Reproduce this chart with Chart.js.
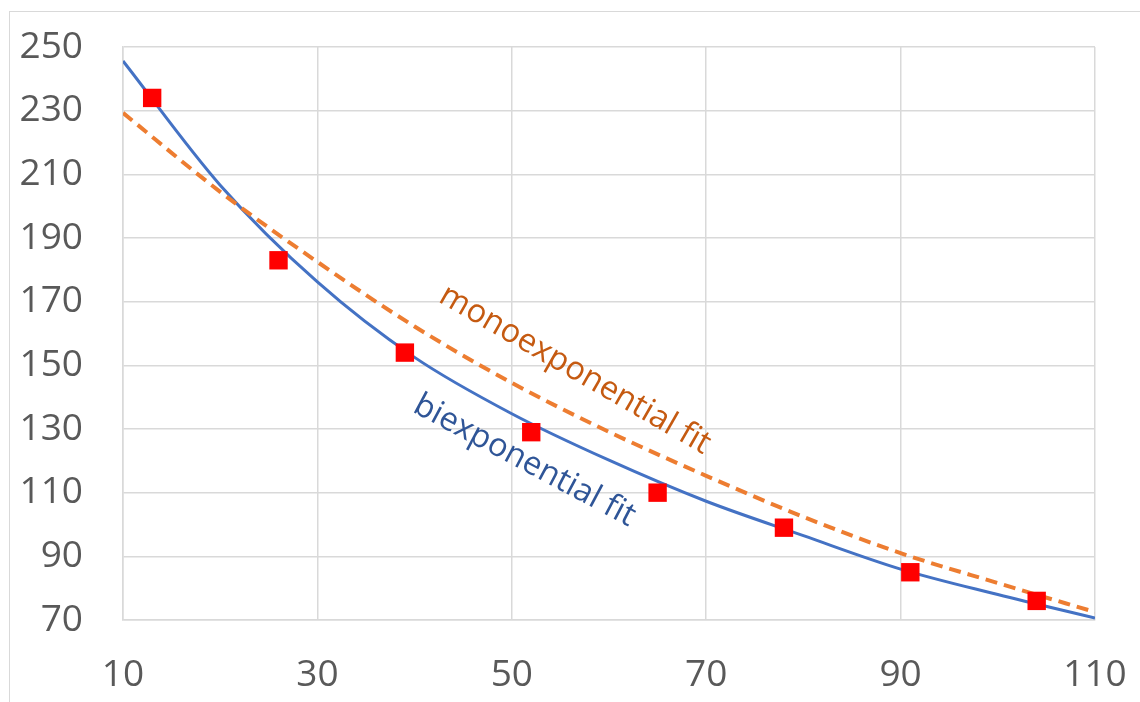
<!DOCTYPE html>
<html>
<head>
<meta charset="utf-8">
<script src="https://cdn.jsdelivr.net/npm/chart.js@4/dist/chart.umd.min.js"></script>
<style>
  html, body { margin: 0; padding: 0; background: #ffffff; overflow: hidden; }
  #wrap { position: relative; width: 1140px; height: 702px; }
  #frame { position: absolute; left: 9px; top: 11px; width: 1200px; height: 800px; border: 1.5px solid #D9D9D9; box-sizing: border-box; }
  canvas { position: absolute; left: 0; top: 0; }
</style>
</head>
<body>
<div id="wrap">
  <div id="frame"></div>
  <canvas id="c" width="1140" height="702"></canvas>
</div>
<script>
// Observed data (red squares)
const obsX = [13, 26, 39, 52, 65, 78, 91, 104];
const obsY = [234, 183, 154, 129, 110, 99, 85, 76];

// Fit curves
const fitX   = [10, 20, 30, 40, 50, 60, 70, 80, 90, 100, 110];
const biexpY = [245.6, 206.6, 176.2, 152.5, 134.8, 120.2, 107.3, 96.5, 86.0, 78.0, 70.6];
const monoY  = [229.3, 204.5, 182.5, 162.2, 144.5, 129.1, 115.3, 102.4, 91.0, 81.6, 72.5];

// Axis ticks
const xTicks = [10, 30, 50, 70, 90, 110];
const yTicks = [70, 90, 110, 130, 150, 170, 190, 210, 230, 250];

// Annotation labels
const monoLabel = "monoexponential fit";
const biexpLabel = "biexponential fit";

const FONT = "'Open Sans', 'Noto Sans', 'Liberation Sans', sans-serif";

const toPts = (xs, ys) => xs.map((x, i) => ({ x: x, y: ys[i] }));

const noPad = (s) => { s.paddingTop = 0; s.paddingBottom = 0; s.paddingLeft = 0; s.paddingRight = 0; };

const labelPlugin = {
  id: 'fitLabels',
  afterDatasetsDraw(chart) {
    const ctx = chart.ctx;
    const xs = chart.scales.x, ys = chart.scales.y;
    ctx.save();
    ctx.font = "32.5px " + FONT;
    ctx.textAlign = 'center';
    ctx.textBaseline = 'middle';
    // monoexponential label
    ctx.save();
    ctx.translate(xs.getPixelForValue(56.5), ys.getPixelForValue(148.6));
    ctx.rotate(30 * Math.PI / 180);
    ctx.fillStyle = '#C55A11';
    ctx.fillText(monoLabel, 0, 0);
    ctx.restore();
    // biexponential label
    ctx.save();
    ctx.translate(xs.getPixelForValue(51.3), ys.getPixelForValue(120.0));
    ctx.rotate(28 * Math.PI / 180);
    ctx.fillStyle = '#2F5597';
    ctx.fillText(biexpLabel, 0, 0);
    ctx.restore();
    ctx.restore();
  }
};

new Chart(document.getElementById('c'), {
  type: 'scatter',
  data: {
    datasets: [
      {
        label: 'data',
        data: toPts(obsX, obsY),
        pointStyle: 'rect',
        pointRadius: 13,
        pointHoverRadius: 13,
        backgroundColor: '#FF0000',
        borderColor: '#FF0000',
        borderWidth: 0,
        showLine: false,
        order: 0
      },
      {
        label: 'mono',
        data: toPts(fitX, monoY),
        showLine: true,
        pointRadius: 0,
        borderColor: '#ED7D31',
        borderWidth: 4,
        borderDash: [12, 7],
        cubicInterpolationMode: 'monotone',
        fill: false,
        order: 1
      },
      {
        label: 'biexp',
        data: toPts(fitX, biexpY),
        showLine: true,
        pointRadius: 0,
        borderColor: '#4472C4',
        borderWidth: 3,
        cubicInterpolationMode: 'monotone',
        fill: false,
        order: 2
      }
    ]
  },
  options: {
    responsive: false,
    animation: false,
    events: [],
    layout: { padding: { left: 0, top: 47, right: 45, bottom: 0 } },
    plugins: { legend: { display: false }, tooltip: { enabled: false } },
    scales: {
      x: {
        type: 'linear',
        min: 10, max: 110,
        afterBuildTicks: (s) => { s.ticks = xTicks.map(v => ({ value: v })); },
        afterFit: (s) => { s.height = 82; noPad(s); },
        grid: { color: '#D9D9D9', lineWidth: 1.5, drawTicks: false },
        border: { color: '#D9D9D9', width: 1.5 },
        ticks: { color: '#595959', font: { family: FONT, size: 37 }, padding: 33, maxRotation: 0, autoSkip: false }
      },
      y: {
        type: 'linear',
        min: 70, max: 250,
        afterBuildTicks: (s) => { s.ticks = yTicks.map(v => ({ value: v })); },
        afterFit: (s) => { s.width = 123; noPad(s); },
        grid: { color: '#D9D9D9', lineWidth: 1.5, drawTicks: false },
        border: { color: '#D9D9D9', width: 1.5 },
        ticks: { color: '#595959', font: { family: FONT, size: 37 }, padding: 40, autoSkip: false }
      }
    }
  },
  plugins: [labelPlugin]
});
</script>
</body>
</html>
